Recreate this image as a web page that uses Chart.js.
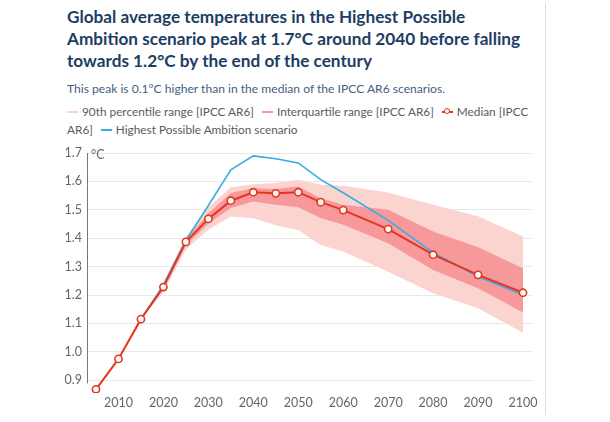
<!DOCTYPE html>
<html>
<head>
<meta charset="utf-8">
<script src="https://cdn.jsdelivr.net/npm/chart.js@4"></script>
<style>
  html, body { margin: 0; padding: 0; background: #fff; }
  body { width: 610px; height: 422px; position: relative; overflow: hidden; font-family: Lato, "Noto Sans", sans-serif; }
  .title { position: absolute; left: 67px; top: 6px; white-space: nowrap; font-size: 17.2px; font-weight: 700; line-height: 22px; color: #1d3d63; }
  .subtitle { position: absolute; left: 67px; top: 81px; white-space: nowrap; font-size: 12.1px; color: #44607e; }
  .legend { position: absolute; left: 67px; top: 103px; white-space: nowrap; font-size: 11.8px; line-height: 18px; color: #5b5b5b; }
  .legend .item { margin-right: 8px; }
  .legend .mk { display: inline-block; width: 11px; height: 2.5px; vertical-align: middle; margin-right: 4px; position: relative; top: -1px; }
  .legend .mk b { position: absolute; left: 2px; top: -3px; width: 4px; height: 4px; border: 1.5px solid; border-radius: 50%; background: #fff; }
  .rule { position: absolute; left: 545px; top: 3px; width: 1px; height: 412px; background: #dcdcdc; }
  .wrap { position: absolute; left: 0; top: 140px; width: 610px; height: 282px; }
</style>
</head>
<body>
<div class="title">Global average temperatures in the Highest Possible<br>Ambition scenario peak at 1.7°C around 2040 before falling<br>towards 1.2°C by the end of the century</div>
<div class="subtitle">This peak is 0.1°C higher than in the median of the IPCC AR6 scenarios.</div>
<div class="legend" id="legend"></div>
<div class="rule"></div>
<div class="wrap"><canvas id="chart"></canvas></div>
<script>
// Median of IPCC AR6 scenarios
const medianYears = [2005, 2010, 2015, 2020, 2025, 2030, 2035, 2040, 2045, 2050, 2055, 2060, 2070, 2080, 2090, 2100];
const medianValues = [0.868, 0.975, 1.115, 1.228, 1.387, 1.468, 1.532, 1.562, 1.558, 1.562, 1.527, 1.499, 1.432, 1.342, 1.271, 1.208];

// Ranges (IPCC AR6) and the Highest Possible Ambition scenario
const rangeYears = [2015, 2020, 2025, 2030, 2035, 2040, 2045, 2050, 2055, 2060, 2070, 2080, 2090, 2100];
const p90Upper = [1.115, 1.245, 1.405, 1.51, 1.579, 1.59, 1.594, 1.606, 1.588, 1.585, 1.561, 1.518, 1.477, 1.406];
const p90Lower = [1.115, 1.21, 1.36, 1.43, 1.476, 1.47, 1.446, 1.429, 1.376, 1.353, 1.282, 1.206, 1.153, 1.067];
const iqrUpper = [1.115, 1.235, 1.395, 1.488, 1.559, 1.576, 1.573, 1.582, 1.541, 1.518, 1.50, 1.424, 1.368, 1.294];
const iqrLower = [1.115, 1.22, 1.375, 1.452, 1.506, 1.529, 1.518, 1.509, 1.471, 1.447, 1.382, 1.288, 1.224, 1.138];
const hpaValues = [1.115, 1.235, 1.392, 1.515, 1.641, 1.69, 1.68, 1.665, 1.606, 1.56, 1.463, 1.349, 1.265, 1.20];

const xTicks = [2010, 2020, 2030, 2040, 2050, 2060, 2070, 2080, 2090, 2100];
const yTicks = [0.9, 1.0, 1.1, 1.2, 1.3, 1.4, 1.5, 1.6, 1.7];
const Y_AXIS_BOTTOM = 0.889; // where the axis line stops

const COLORS = {
    p90: '#fbd3cf',
    iqr: '#f7989b',
    median: '#e5351f',
    hpa: '#35aee6',
};

const LEGEND_ITEMS = [
    { label: '90th percentile range [IPCC AR6]', color: COLORS.p90 },
    { label: 'Interquartile range [IPCC AR6]', color: COLORS.iqr },
    { label: 'Median [IPCC<br>AR6]', color: COLORS.median, marker: true },
    { label: 'Highest Possible Ambition scenario', color: COLORS.hpa },
];

const pts = (xs, ys) => xs.map((x, i) => ({ x, y: ys[i] }));

// HTML legend so that it wraps like the original
document.getElementById('legend').innerHTML = LEGEND_ITEMS.map(it =>
    `<span class="item"><span class="mk" style="background:${it.color}">${it.marker ? `<b style="border-color:${it.color}"></b>` : ''}</span>${it.label}</span>`
).join('');

// y axis line (stops just under 0.9) and the "°C" unit
const axisDecor = {
    id: 'axisDecor',
    afterDraw(chart) {
        const { ctx, chartArea, scales } = chart;
        const x = Math.round(chartArea.left) + 0.5;
        ctx.save();
        ctx.strokeStyle = '#777';
        ctx.lineWidth = 1;
        ctx.beginPath();
        ctx.moveTo(x, scales.y.getPixelForValue(1.7));
        ctx.lineTo(x, scales.y.getPixelForValue(Y_AXIS_BOTTOM));
        ctx.stroke();
        ctx.font = '12.5px Lato';
        ctx.fillStyle = '#666';
        ctx.textBaseline = 'middle';
        ctx.fillText('°C', chartArea.left + 4, scales.y.getPixelForValue(1.7) + 2);
        ctx.restore();
    },
};

const band = (data, color, fill, order) => ({
    data, backgroundColor: color, borderWidth: 0, pointRadius: 0, fill, order, tension: 0,
});

new Chart(document.getElementById('chart'), {
    type: 'line',
    data: {
        datasets: [
            band(pts(rangeYears, p90Upper), COLORS.p90, '+1', 4),
            band(pts(rangeYears, p90Lower), COLORS.p90, false, 4),
            band(pts(rangeYears, iqrUpper), COLORS.iqr, '+1', 3),
            band(pts(rangeYears, iqrLower), COLORS.iqr, false, 3),
            {
                data: pts(rangeYears, hpaValues),
                borderColor: COLORS.hpa, borderWidth: 1.6, pointRadius: 0, fill: false, order: 2,
            },
            {
                data: pts(medianYears, medianValues),
                borderColor: COLORS.median, borderWidth: 2, fill: false, order: 1,
                pointRadius: 3.6, pointBorderWidth: 1.6,
                pointBackgroundColor: '#fff', pointBorderColor: COLORS.median,
            },
        ],
    },
    options: {
        responsive: true,
        maintainAspectRatio: false,
        animation: false,
        layout: { padding: { left: 60, right: 78, top: 13, bottom: 4 } },
        plugins: { legend: { display: false }, tooltip: { enabled: false } },
        scales: {
            x: {
                type: 'linear',
                min: 2003,
                max: 2102,
                afterBuildTicks: s => { s.ticks = xTicks.map(v => ({ value: v })); },
                afterFit: s => { s.height = 25; },
                grid: { display: false, drawTicks: false },
                border: { display: false },
                ticks: { padding: 2, color: '#666', font: { family: 'Lato', size: 12.5 }, maxRotation: 0, callback: v => String(v) },
            },
            y: {
                min: 0.855,
                max: 1.7,
                afterBuildTicks: s => { s.ticks = yTicks.map(v => ({ value: v })); },
                afterFit: s => { s.width = 27; },
                grid: { color: '#e8e8e8', lineWidth: 1, drawTicks: false },
                border: { display: false },
                ticks: { padding: 5, color: '#666', font: { family: 'Lato', size: 12.5 }, callback: v => v.toFixed(1) },
            },
        },
    },
    plugins: [axisDecor],
});
</script>
</body>
</html>
